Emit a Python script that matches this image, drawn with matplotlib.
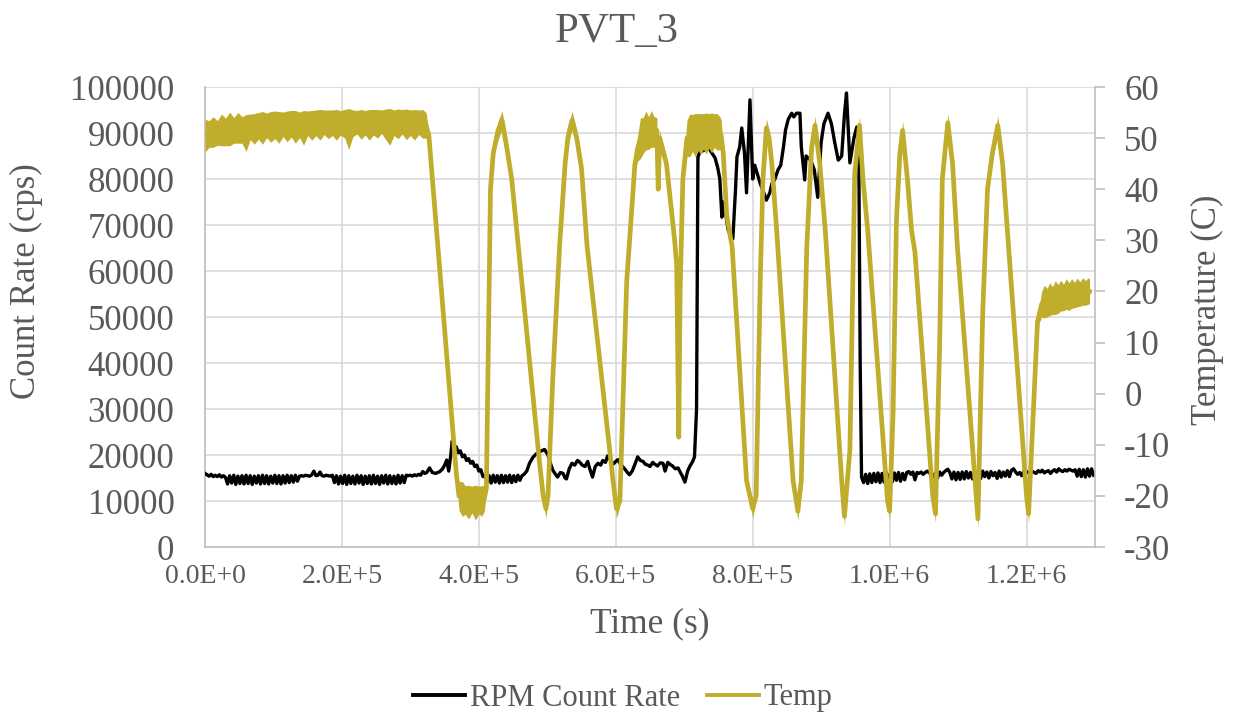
import numpy as np
import matplotlib
matplotlib.use("Agg")
import matplotlib.pyplot as plt

plt.rcParams['font.family'] = ['Liberation Serif', 'DejaVu Serif']

# ---------------- data ----------------
title = "PVT_3"
x_label = "Time (s)"
y_label_left = "Count Rate (cps)"
y_label_right = "Temperature (C)"
series_names = ["RPM Count Rate", "Temp"]

x_ticks = [0, 200000, 400000, 600000, 800000, 1000000, 1200000]
x_tick_labels = ["0.0E+0", "2.0E+5", "4.0E+5", "6.0E+5", "8.0E+5", "1.0E+6", "1.2E+6"]
y_left_ticks = [0, 10000, 20000, 30000, 40000, 50000, 60000, 70000, 80000, 90000, 100000]
y_right_ticks = [-30, -20, -10, 0, 10, 20, 30, 40, 50, 60]

# RPM count rate, first baseline part: samples every 3000 s starting at 0 s
rpm_base1_step_s = 3000
rpm_base1_cps = [
    16000, 15700, 15400, 15800, 15300, 15600, 15300, 15700, 15200, 15500, 15100,
    13700, 15500, 13900, 15600, 13600, 15400, 13800, 15500, 13700, 15600, 13800,
    15500, 13600, 15400, 13900, 15500, 13700, 15600, 13800, 15500, 13700, 15400,
    13900, 15600, 13800, 15500, 13700, 15500, 13900, 15600, 14000, 15500, 14100,
    15600, 14300,
    15400, 15500, 15400, 15600, 15500, 15400, 15700, 16500, 15500, 15600, 16300,
    15500, 15400, 15600, 15500, 15400, 15600,
    14000, 15500, 13700, 15400, 13800, 15600, 13600, 15500, 13800, 15400, 13700,
    15600, 13900, 15500, 13600, 15400, 13800, 15500, 13700, 15600, 13800, 15400,
    13600, 15500, 13900, 15600, 13700, 15500, 13800, 15400, 13700, 15600, 13900,
    15500, 14000, 15600,
    15500, 15600, 15400, 15700, 15500, 15800, 15600, 16400, 16000,
]

# RPM count rate, middle part (time in kiloseconds, cps)
rpm_mid_time_ks = [
    324, 328, 332, 337, 343, 347, 350, 353, 356, 359, 361, 364, 367, 370, 373,
    376, 379, 382, 385, 388, 391, 394, 397, 400, 403, 406, 409, 412, 415, 418,
    421, 424, 427, 430, 433, 436, 439, 442, 445, 448, 451, 454, 457, 460, 463,
    466, 470, 474, 479, 485, 490, 496, 501, 505, 508, 512, 515, 519, 523, 526,
    528, 532, 536, 540, 544, 547, 551, 555, 559, 562, 566, 570, 574, 578, 581,
    585, 588, 592, 596, 600, 603, 606, 610, 614, 617, 620, 624, 628, 632, 636,
    640, 643, 647, 650, 654, 657, 661, 665, 669, 672, 676, 679, 683, 687, 691,
    694, 697, 701, 705, 708, 712, 715, 718, 720, 723, 730, 737, 741, 745, 749,
    752, 755, 757, 760, 764, 768, 771, 775, 777, 781, 784, 788, 791, 796, 800,
    803, 807, 811, 815, 820, 825, 828, 832, 837, 841, 845, 848, 852, 857, 860,
    864, 869, 871, 876, 878, 885, 890, 895, 900, 904, 910, 915, 920, 925, 930,
    934, 937, 942, 948, 952, 955, 957,
]
rpm_mid_cps = [
    16200, 17200, 16200, 16000, 16400, 17000, 17800, 18900, 16500, 20000, 23000,
    21500, 21800, 20500, 20900, 19600, 20000, 18800, 19200, 18200, 18600, 17500,
    17800, 16500, 16800, 15300, 15500, 14000, 15500, 13900, 15600, 14100, 15500,
    13900, 15600, 14000, 15500, 14100, 15600, 14000, 15500, 14200, 15600, 14500,
    15500, 15800, 16500, 18200, 19500, 20400, 20800, 21200, 20000, 18000, 16700,
    15800, 15200, 16200, 16000, 15000, 14800, 17000, 18200, 17800, 18800, 18500,
    17800, 17500, 18600, 17000, 15200, 17500, 18200, 17800, 18800, 18400, 19800,
    19000, 18000, 18600, 19000, 18200, 17500, 16800, 16200, 15700, 16500, 18000,
    19600, 18800, 18600, 18000, 17800, 17500, 18400, 18000, 17600, 18300, 18200,
    16500, 18400, 18000, 17600, 17000, 17200, 16300, 15500, 14100, 16500, 17500,
    18500, 19600, 30000, 84800, 85900, 86300, 86500, 85500, 84600, 82400, 80000,
    71700, 75000, 73000, 69000, 67400, 67000, 78000, 84800, 87000, 91100, 85700,
    77000, 97200, 80000, 83000, 81000, 79000, 77500, 75400, 77000, 79000, 79800,
    82000, 83000, 87000, 90700, 93000, 94300, 93500, 94300, 94300, 87000, 79800,
    85000, 84000, 82000, 76000, 88000, 92000, 94300, 92000, 87800, 84100, 85000,
    94000, 98700, 83500, 89000, 91300, 85000, 40000,
]

# RPM count rate, last baseline part: samples every 3000 s starting at 959000 s
rpm_base2_start_s = 959000
rpm_base2_step_s = 3000
rpm_base2_cps = [
    15200, 14000, 15800, 13800, 15900, 14000, 16000, 14200, 16100, 14000, 16000,
    14100, 16200, 14300, 16000, 14200, 16100, 14500, 16200, 14300, 16000, 14600,
    16200, 16400, 15800, 16300, 14600, 16200, 16000, 16300, 15800, 16200, 16500,
    16100, 15800, 15200, 16100, 15000, 16300, 15600, 16200, 16600, 16900, 16200,
    14800, 16300, 14600, 16200, 14700, 16300, 14800, 16400, 15000, 16200, 14800,
    16400, 15200, 16300, 14900, 16500, 15300, 16300, 15000, 16400, 15500, 16200,
    14900, 16500, 15200, 16300, 15400, 16600, 15300, 16700, 17000, 16300, 15800,
    16200, 15500, 16400, 16200, 16300, 16100, 16500, 16200, 16000, 16600, 16300,
    16700, 16100, 16400, 16600, 16000, 16500, 16800, 16300, 17000, 16600, 16400,
    16800, 16500, 16900, 16700, 16500, 16800, 15400, 16900, 15300, 16800, 15200,
    17000, 15400, 17000, 15600,
]

# Temperature: time (ks), centre value (C), half-width of the noise band (C)
temp_time_ks = [
    0, 6, 12, 18, 24, 30, 36, 42, 48, 54, 60, 66, 72, 78, 84, 90, 96, 102, 108,
    114, 120, 126, 132, 138, 144, 150, 156, 162, 168, 174, 180, 186, 192, 198,
    204, 210, 216, 222, 228, 234, 240, 246, 252, 258, 264, 270, 276, 282, 288,
    294, 300, 306, 312, 318, 323, 327,
    367, 371, 376, 380, 385, 390, 395, 400, 404, 408, 411,
    417, 421, 428, 434, 441, 448,
    489, 494, 498,
    501, 508, 518, 526, 530, 536, 543, 550, 558,
    596, 601,
    606, 616, 628, 632, 636, 640, 644, 648, 652, 656, 660, 662, 664, 674, 686,
    689, 692, 694, 698,
    704, 708, 712, 716, 720, 724, 728, 732, 736, 740, 744, 748, 752, 754,
    757, 762, 770, 791, 800,
    805, 811, 815, 820, 824, 828, 835,
    859, 866,
    871, 879, 886, 891, 898, 906,
    930, 934,
    942, 949, 956, 961, 968,
    997, 1000,
    1005, 1010, 1015, 1019, 1026, 1032, 1037,
    1063, 1067,
    1073, 1077, 1085, 1092, 1099,
    1127, 1129,
    1136, 1143, 1150, 1158, 1165, 1172,
    1200, 1203,
    1212, 1216, 1222, 1226, 1230, 1234, 1238, 1242, 1246, 1250, 1254, 1258,
    1262, 1266, 1270, 1274, 1278, 1282, 1286, 1290, 1292,
]
temp_c = [
    50.5, 50.8, 51.2, 51.0, 51.6, 51.2, 51.8, 51.5, 52.0, 51.6, 51.0, 52.2, 51.8,
    52.4, 52.0, 52.5, 52.2, 52.6, 52.1, 52.7, 52.3, 52.8, 52.2, 52.6, 52.0, 52.9,
    52.5, 53.0, 52.6, 53.1, 52.7, 53.0, 52.6, 53.0, 52.8, 51.8, 52.9, 53.1, 52.7,
    53.0, 52.6, 53.1, 52.8, 53.2, 52.7, 52.2, 53.0, 52.8, 53.2, 52.7, 53.0, 52.6,
    53.1, 52.8, 52.5, 50.5,
    -15.5, -20.0, -20.6, -20.8, -21.2, -20.7, -21.3, -20.8, -21.0, -20.5, -18.5,
    40, 47, 51.5, 53.5, 48, 42,
    -14, -20, -22.5,
    -20, 3, 29, 45, 50, 53.5, 50, 44, 29,
    -17, -22.5,
    -21, 22, 45, 48, 50, 50.5, 51.5, 51, 51.8, 51.2, 51.5, 40, 50, 45, 30,
    25, -8.5, 20, 42,
    50, 50.5, 51, 50.6, 51.2, 50.8, 51.3, 50.9, 51.4, 51, 51.5, 51.2, 51, 50.5,
    47, 35, 28.7, -17, -22.5,
    -20, 22, 42, 52, 50, 45, 32,
    -17, -23,
    -17, 28.7, 48, 52.5, 45, 32,
    -17, -24,
    -11, 43, 52.5, 42, 32,
    -21, -23,
    -4, 34, 47, 51.5, 42, 32, 27.7,
    -20, -23.5,
    9, 42, 53, 45, 28.7,
    -21, -24.5,
    15.8, 40, 47, 52.5, 45, 32,
    -20, -23.5,
    2.7, 14, 17.5, 18, 17.8, 18.5, 18.2, 18.8, 18.5, 19.2, 18.8, 19.5, 19.0,
    19.6, 19.3, 19.8, 19.5, 20.0, 19.7, 20.1, 20.0,
]
temp_band_c = [
    3.2, 2.6, 3.0, 2.4, 3.1, 2.7, 3.3, 2.5, 3.0, 2.6, 3.6, 2.5, 3.0, 2.6, 3.2,
    2.4, 3.0, 2.7, 3.1, 2.4, 3.0, 2.6, 3.2, 2.5, 3.4, 2.4, 2.9, 2.5, 3.0, 2.4,
    2.8, 2.5, 3.0, 2.4, 2.8, 4.0, 2.6, 2.3, 2.9, 2.4, 3.0, 2.5, 2.8, 2.3, 3.0,
    3.6, 2.5, 2.9, 2.4, 3.0, 2.5, 3.0, 2.4, 2.8, 2.5, 0.5,
    0.5, 2.8, 3.4, 2.8, 3.3, 2.6, 3.4, 2.7, 3.0, 2.5, 0.8,
    0.6, 1.0, 1.8, 1.8, 1.4, 0.8,
    0.6, 1.5, 1.8,
    0.8, 0.5, 0.6, 1.2, 1.6, 1.8, 1.6, 1.0, 0.6,
    0.8, 1.8,
    1.0, 0.6, 1.2, 2.5, 4.0, 3.5, 3.8, 3.2, 3.6, 3.0, 2.5, 0.5, 1.5, 1.5, 1.0,
    0.5, 0.3, 0.5, 1.0,
    3.5, 4.2, 3.6, 4.2, 3.6, 4.0, 3.5, 4.0, 3.4, 3.9, 3.3, 3.6, 3.2, 3.0,
    1.0, 0.8, 0.8, 0.8, 1.8,
    0.8, 0.6, 1.0, 1.8, 1.6, 1.0, 0.8,
    0.8, 1.8,
    0.8, 0.6, 1.2, 1.8, 1.2, 0.8,
    0.8, 1.8,
    0.6, 1.0, 1.8, 1.2, 0.8,
    1.0, 1.8,
    0.6, 1.0, 1.5, 1.8, 1.5, 1.0, 0.8,
    1.0, 1.8,
    0.6, 1.0, 1.8, 1.2, 0.8,
    1.0, 1.8,
    0.6, 1.5, 1.5, 1.8, 1.2, 0.8,
    1.0, 1.8,
    0.6, 1.0, 2.5, 3.2, 2.8, 3.2, 2.7, 3.3, 2.8, 3.0, 2.6, 3.0, 2.7, 2.9, 2.5,
    2.8, 2.4, 2.7, 2.4, 2.6, 2.4,
]

# ---------------- assemble series ----------------
t_b1 = np.arange(len(rpm_base1_cps)) * rpm_base1_step_s
t_mid = np.array(rpm_mid_time_ks) * 1000.0
t_b2 = rpm_base2_start_s + np.arange(len(rpm_base2_cps)) * rpm_base2_step_s
rpm_t = np.concatenate([t_b1, t_mid, t_b2])
rpm_v = np.concatenate([rpm_base1_cps, rpm_mid_cps, rpm_base2_cps])

temp_t = np.array(temp_time_ks) * 1000.0
temp_v = np.array(temp_c)
temp_w = np.array(temp_band_c)

# ---------------- style ----------------
GOLD = "#BFAD2B"
TXT = "#595959"
GRID = "#D9D9D9"
AXC = "#BFBFBF"

W, H = 1234, 718
fig = plt.figure(figsize=(W / 100, H / 100), dpi=100)
ax = fig.add_axes([205 / W, 1 - 547 / H, (1095 - 205) / W, (547 - 87) / H])
ax2 = ax.twinx()

l1, = ax.plot(rpm_t, rpm_v, color="black", lw=2.4, solid_joinstyle="round", zorder=3)
ax2.fill_between(temp_t, temp_v - temp_w, temp_v + temp_w, color=GOLD, lw=0, zorder=3)
l2, = ax2.plot(temp_t, temp_v, color=GOLD, lw=3.4, solid_joinstyle="round", zorder=4)

ax.set_xlim(0, 1300000)
ax.set_ylim(0, 100000)
ax2.set_ylim(-30, 60)

ax.set_xticks(x_ticks)
ax.set_xticklabels(x_tick_labels)
ax.set_yticks(y_left_ticks)
ax.set_yticklabels([str(v) for v in y_left_ticks])
ax2.set_yticks(y_right_ticks)
ax2.set_yticklabels([str(v) for v in y_right_ticks])

ax.grid(True, color=GRID, lw=1.2, zorder=0)
ax.set_axisbelow(True)

for a in (ax, ax2):
    a.spines["top"].set_visible(False)
ax.spines["left"].set_color(AXC)
ax.spines["bottom"].set_color(AXC)
ax.spines["right"].set_visible(False)
ax2.spines["left"].set_visible(False)
ax2.spines["bottom"].set_visible(False)
ax2.spines["right"].set_color(AXC)
for s in ("left", "bottom"):
    ax.spines[s].set_linewidth(1.2)
ax2.spines["right"].set_linewidth(1.2)

ax.tick_params(axis="x", length=0, pad=12, labelsize=20, labelcolor=TXT)
ax.tick_params(axis="y", length=0, pad=22, labelsize=25, labelcolor=TXT)
ax2.tick_params(axis="y", length=7, width=1.2, color=AXC, direction="out",
                pad=14, labelsize=25, labelcolor=TXT)

fig.text(617 / W, 1 - 42 / H, title, ha="center", va="baseline", fontsize=31, color=TXT)
fig.text(650 / W, 1 - 632 / H, x_label, ha="center", va="baseline", fontsize=25.5, color=TXT)
fig.text(26 / W, 1 - 281 / H, y_label_left, ha="center", va="center", rotation=90,
         fontsize=25, color=TXT)
fig.text(1207 / W, 1 - 310 / H, y_label_right, ha="center", va="center", rotation=90,
         fontsize=25, color=TXT)

leg = fig.legend([l1, l2], series_names, loc="center", bbox_to_anchor=(623 / W, 1 - 698 / H),
                 ncol=2, frameon=False, fontsize=22, handlelength=1.7, handletextpad=0.15,
                 columnspacing=0.9, labelcolor=TXT)
for ln in leg.get_lines():
    ln.set_linewidth(2.8)

fig.savefig("out.png", dpi=100)
